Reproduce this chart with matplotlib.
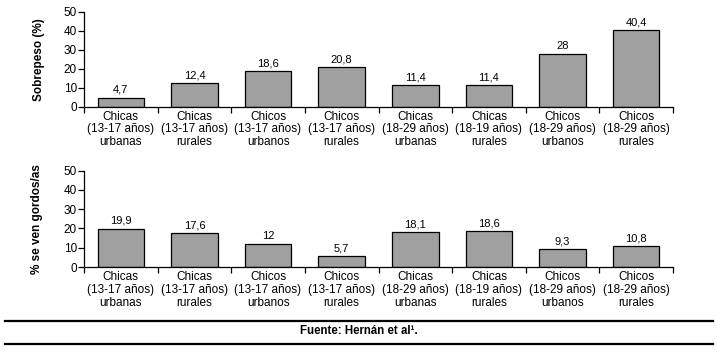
import matplotlib
matplotlib.use("Agg")
import matplotlib.pyplot as plt
from matplotlib.lines import Line2D

plt.rcParams['font.family'] = ['Liberation Sans', 'DejaVu Sans']

categories = [
    "Chicas\n(13-17 años)\nurbanas",
    "Chicas\n(13-17 años)\nrurales",
    "Chicos\n(13-17 años)\nurbanos",
    "Chicos\n(13-17 años)\nrurales",
    "Chicas\n(18-29 años)\nurbanas",
    "Chicas\n(18-19 años)\nrurales",
    "Chicos\n(18-29 años)\nurbanos",
    "Chicos\n(18-29 años)\nrurales",
]
sobrepeso = [4.7, 12.4, 18.6, 20.8, 11.4, 11.4, 28, 40.4]
se_ven_gordos = [19.9, 17.6, 12, 5.7, 18.1, 18.6, 9.3, 10.8]
yticks = [0, 10, 20, 30, 40, 50]
ylabels = ["Sobrepeso (%)", "% se ven gordos/as"]
fuente = "Fuente: Hernán et al¹."

def fmt(v):
    s = ("%g" % v).replace(".", ",")
    return s

W, H = 717, 353
fig = plt.figure(figsize=(W / 100, H / 100), dpi=100)

def px_axes(left, top, right, bottom):
    return fig.add_axes([left / W, 1 - bottom / H, (right - left) / W, (bottom - top) / H])

ax1 = px_axes(84, 12, 673, 106.5)
ax2 = px_axes(84, 170.5, 673, 267)

for ax, vals, lab, lx in [(ax1, sobrepeso, ylabels[0], 45), (ax2, se_ven_gordos, ylabels[1], 43)]:
    x = list(range(len(vals)))
    ax.bar(x, vals, width=0.63, color="#a0a0a0", edgecolor="black", linewidth=0.9, zorder=2)
    for xi, v in zip(x, vals):
        ax.annotate(fmt(v), (xi, v), xytext=(0, 2), textcoords="offset points",
                    ha="center", va="bottom", fontsize=8)
    ax.set_xlim(-0.5, len(vals) - 0.5)
    ax.set_ylim(0, 50)
    ax.set_yticks(yticks)
    ax.set_yticklabels([str(t) for t in yticks], fontsize=8.5)
    ax.set_xticks([i - 0.5 for i in range(len(vals) + 1)])
    ax.set_xticklabels([])
    ax.set_xticks(x, minor=True)
    ax.set_xticklabels(categories, minor=True, fontsize=8.5, linespacing=1.08)
    ax.tick_params(axis="x", which="minor", length=0, pad=3)
    ax.tick_params(axis="x", which="major", length=4, width=0.9, direction="out")
    ax.tick_params(axis="y", length=4, width=0.9, direction="out", pad=1)
    for s in ["top", "right"]:
        ax.spines[s].set_visible(False)
    for s in ["left", "bottom"]:
        ax.spines[s].set_linewidth(0.9)
    ax.set_ylabel(lab, fontsize=8.5, fontweight="bold")
    ax.yaxis.set_label_coords((lx - 84) / 589, 0.5)

for yy in [320.5, 344]:
    fig.add_artist(Line2D([5 / W, 713 / W], [1 - yy / H, 1 - yy / H], color="black", linewidth=1.6))

fig.text(359 / W, 1 - 330.5 / H, fuente, ha="center", va="center", fontsize=8.3, fontweight="bold")

fig.savefig("out.png", dpi=100, facecolor="white")
